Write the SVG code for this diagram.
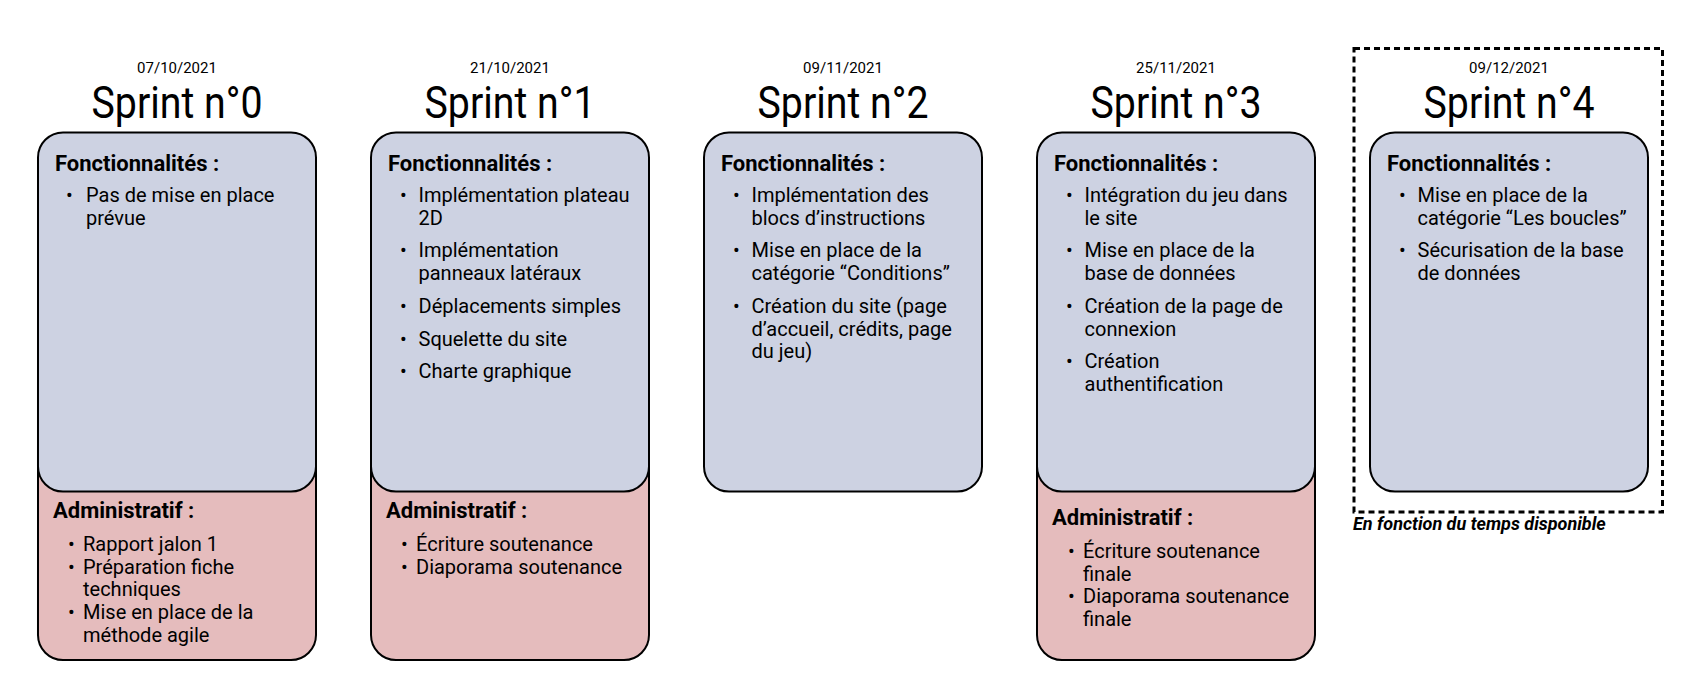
<svg xmlns="http://www.w3.org/2000/svg" width="1701" height="679" viewBox="0 0 1701 679">
<style>
  text { font-family: Roboto, "Liberation Sans", sans-serif; fill: #000; }
  .date { font-size: 15px; text-anchor: middle; }
  .title { font-size: 44px; text-anchor: middle; }
  .head { font-size: 22px; font-weight: bold; }
  .item { font-size: 20px; }
  .blue { fill: #cdd2e2; stroke: #000; stroke-width: 2; }
  .red { fill: #e5bcbd; stroke: #000; stroke-width: 2; }
  .dash { fill: none; stroke: #000; stroke-width: 3; stroke-dasharray: 6 4; }
  .note { font-size: 18px; font-weight: bold; font-style: italic; }
</style>
<rect width="1701" height="679" fill="#fff"/>
<g id="connectors"></g>

<g id="sprint0">
  <text class="date" x="177" y="72.5">07/10/2021</text>
  <text class="title" x="177" y="118.3" textLength="171" lengthAdjust="spacingAndGlyphs">Sprint n°0</text>
  <rect class="red" x="38" y="420" width="278" height="240" rx="25"/>
  <rect class="blue" x="38" y="132.5" width="278" height="359" rx="25"/>
  <text class="head" x="55" y="170.5">Fonctionnalités :</text>
  <text class="item" x="66" y="202">•</text>
  <text class="item" x="86" y="202">Pas de mise en place</text>
  <text class="item" x="86" y="224.7">prévue</text>
  <text class="head" x="53" y="518.3">Administratif :</text>
  <text class="item" x="68" y="551">•</text>
  <text class="item" x="83" y="551">Rapport jalon 1</text>
  <text class="item" x="68" y="573.7">•</text>
  <text class="item" x="83" y="573.7">Préparation fiche</text>
  <text class="item" x="83" y="596.4">techniques</text>
  <text class="item" x="68" y="619.1">•</text>
  <text class="item" x="83" y="619.1">Mise en place de la</text>
  <text class="item" x="83" y="641.8">méthode agile</text>
</g>

<g id="sprint1">
  <text class="date" x="510" y="72.5">21/10/2021</text>
  <text class="title" x="510" y="118.3" textLength="171" lengthAdjust="spacingAndGlyphs">Sprint n°1</text>
  <rect class="red" x="371" y="420" width="278" height="240" rx="25"/>
  <rect class="blue" x="371" y="132.5" width="278" height="359" rx="25"/>
  <text class="head" x="388" y="170.5">Fonctionnalités :</text>
  <text class="item" x="400" y="202">•</text>
  <text class="item" x="418.5" y="202">Implémentation plateau</text>
  <text class="item" x="418.5" y="224.7">2D</text>
  <text class="item" x="400" y="257.4">•</text>
  <text class="item" x="418.5" y="257.4">Implémentation</text>
  <text class="item" x="418.5" y="280.1">panneaux latéraux</text>
  <text class="item" x="400" y="312.8">•</text>
  <text class="item" x="418.5" y="312.8">Déplacements simples</text>
  <text class="item" x="400" y="345.5">•</text>
  <text class="item" x="418.5" y="345.5">Squelette du site</text>
  <text class="item" x="400" y="378.2">•</text>
  <text class="item" x="418.5" y="378.2">Charte graphique</text>
  <text class="head" x="386" y="518.3">Administratif :</text>
  <text class="item" x="401" y="551">•</text>
  <text class="item" x="416" y="551">Écriture soutenance</text>
  <text class="item" x="401" y="573.7">•</text>
  <text class="item" x="416" y="573.7">Diaporama soutenance</text>
</g>

<g id="sprint2">
  <text class="date" x="843" y="72.5">09/11/2021</text>
  <text class="title" x="843" y="118.3" textLength="171" lengthAdjust="spacingAndGlyphs">Sprint n°2</text>
  <rect class="blue" x="704" y="132.5" width="278" height="359" rx="25"/>
  <text class="head" x="721" y="170.5">Fonctionnalités :</text>
  <text class="item" x="733" y="202">•</text>
  <text class="item" x="751.5" y="202">Implémentation des</text>
  <text class="item" x="751.5" y="224.7">blocs d’instructions</text>
  <text class="item" x="733" y="257.4">•</text>
  <text class="item" x="751.5" y="257.4">Mise en place de la</text>
  <text class="item" x="751.5" y="280.1">catégorie “Conditions”</text>
  <text class="item" x="733" y="312.8">•</text>
  <text class="item" x="751.5" y="312.8">Création du site (page</text>
  <text class="item" x="751.5" y="335.5">d’accueil, crédits, page</text>
  <text class="item" x="751.5" y="358.2">du jeu)</text>
</g>

<g id="sprint3">
  <text class="date" x="1176" y="72.5">25/11/2021</text>
  <text class="title" x="1176" y="118.3" textLength="171" lengthAdjust="spacingAndGlyphs">Sprint n°3</text>
  <rect class="red" x="1037" y="420" width="278" height="240" rx="25"/>
  <rect class="blue" x="1037" y="132.5" width="278" height="359" rx="25"/>
  <text class="head" x="1054" y="170.5">Fonctionnalités :</text>
  <text class="item" x="1066" y="202">•</text>
  <text class="item" x="1084.5" y="202">Intégration du jeu dans</text>
  <text class="item" x="1084.5" y="224.7">le site</text>
  <text class="item" x="1066" y="257.4">•</text>
  <text class="item" x="1084.5" y="257.4">Mise en place de la</text>
  <text class="item" x="1084.5" y="280.1">base de données</text>
  <text class="item" x="1066" y="312.8">•</text>
  <text class="item" x="1084.5" y="312.8">Création de la page de</text>
  <text class="item" x="1084.5" y="335.5">connexion</text>
  <text class="item" x="1066" y="368.2">•</text>
  <text class="item" x="1084.5" y="368.2">Création</text>
  <text class="item" x="1084.5" y="390.9">authentification</text>
  <text class="head" x="1052" y="525">Administratif :</text>
  <text class="item" x="1068" y="558">•</text>
  <text class="item" x="1083" y="558">Écriture soutenance</text>
  <text class="item" x="1083" y="580.7">finale</text>
  <text class="item" x="1068" y="603.4">•</text>
  <text class="item" x="1083" y="603.4">Diaporama soutenance</text>
  <text class="item" x="1083" y="626.1">finale</text>
</g>

<g id="sprint4">
  <rect class="dash" x="1354" y="48.5" width="308.5" height="463.5"/>
  <text class="date" x="1509" y="72.5">09/12/2021</text>
  <text class="title" x="1509" y="118.3" textLength="171" lengthAdjust="spacingAndGlyphs">Sprint n°4</text>
  <rect class="blue" x="1370" y="132.5" width="278" height="359" rx="25"/>
  <text class="head" x="1387" y="170.5">Fonctionnalités :</text>
  <text class="item" x="1399" y="202">•</text>
  <text class="item" x="1417.5" y="202">Mise en place de la</text>
  <text class="item" x="1417.5" y="224.7">catégorie “Les boucles”</text>
  <text class="item" x="1399" y="257.4">•</text>
  <text class="item" x="1417.5" y="257.4">Sécurisation de la base</text>
  <text class="item" x="1417.5" y="280.1">de données</text>
  <text class="note" x="1353" y="529.5">En fonction du temps disponible</text>
</g>
</svg>
